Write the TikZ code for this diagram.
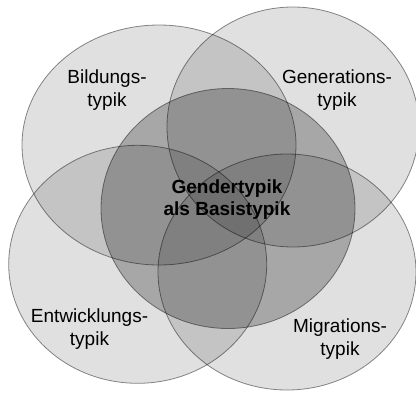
\documentclass[tikz,border=0pt]{standalone}
\usepackage{fontspec}
\setmainfont{Liberation Sans}
\usepackage{tikz}
\tikzset{
  kreis/.style={draw=black, draw opacity=0.45, line width=0.8pt, fill=black, fill opacity=0.12},
  kern/.style={kreis, fill opacity=0.25},
  typtext/.style={align=center, inner sep=0pt, font=\fontsize{19}{23}\selectfont},
}

\begin{document}
\begin{tikzpicture}[x=1pt, y=-1pt]
\fill[white] (0,0) rectangle (416,392);
\clip (0,0) rectangle (416,392);
% Bildungstypik
\draw[kreis] (159,145) ellipse [x radius=137, y radius=120];
\node[typtext] (bildung) at (107,90) {Bildungs-\\typik};

% Generationstypik
\draw[kreis] (293,127) ellipse [x radius=126, y radius=120];
\node[typtext] (generation) at (337,90) {Generations-\\typik};

% Gendertypik (Mitte)
\draw[kern] (228,208.5) ellipse [x radius=127, y radius=120];

% Entwicklungstypik
\draw[kreis] (137.7,264.3) ellipse [x radius=129, y radius=119];
\node[typtext] (entwicklung) at (89.5,329) {Entwicklungs-\\typik};

% Migrationstypik
\draw[kreis] (287,272) ellipse [x radius=129, y radius=118];
\node[typtext] (migration) at (340,339) {Migrations-\\typik};

\node[typtext, font=\fontsize{19}{22}\selectfont\bfseries] (gender) at (227,200) {Gendertypik\\als Basistypik};
\end{tikzpicture}
\end{document}
